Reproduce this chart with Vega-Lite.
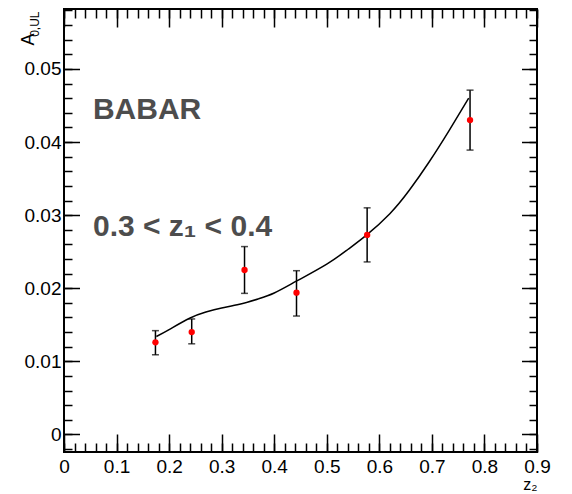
{
  "$schema": "https://vega.github.io/schema/vega-lite/v6.json",
  "autosize": {"type": "none"},
  "padding": {"left": 64, "top": 9, "right": 35, "bottom": 42},
  "width": 473,
  "height": 443,
  "background": "white",
  "config": {
    "view": {"stroke": "black", "strokeWidth": 2},
    "axis": {"grid": false, "domain": false, "labelFont": "Liberation Sans", "titleFont": "Liberation Sans", "tickColor": "black", "labelColor": "black", "titleColor": "black"}
  },
  "datasets": {
    "points": [
      {"z": 0.174, "a": 0.0126, "lo": 0.0109, "hi": 0.0142},
      {"z": 0.243, "a": 0.0140, "lo": 0.0124, "hi": 0.0158},
      {"z": 0.3435, "a": 0.0225, "lo": 0.0193, "hi": 0.0257},
      {"z": 0.4424, "a": 0.0194, "lo": 0.0162, "hi": 0.0224},
      {"z": 0.5768, "a": 0.0273, "lo": 0.0236, "hi": 0.0310},
      {"z": 0.7726, "a": 0.0430, "lo": 0.0389, "hi": 0.0471}
    ],
    "curve": [
      {"z": 0.1757, "a": 0.0134},
      {"z": 0.20, "a": 0.01435},
      {"z": 0.239, "a": 0.0159},
      {"z": 0.270, "a": 0.01675},
      {"z": 0.300, "a": 0.0173},
      {"z": 0.334, "a": 0.0178},
      {"z": 0.370, "a": 0.01855},
      {"z": 0.400, "a": 0.01935},
      {"z": 0.443, "a": 0.0210},
      {"z": 0.500, "a": 0.0233},
      {"z": 0.540, "a": 0.0253},
      {"z": 0.576, "a": 0.0273},
      {"z": 0.620, "a": 0.0302},
      {"z": 0.657, "a": 0.0334},
      {"z": 0.695, "a": 0.0373},
      {"z": 0.733, "a": 0.0416},
      {"z": 0.770, "a": 0.0460}
    ],
    "ann": [
      {"z": 0.0551, "a": 0.0431, "label": "BABAR"},
      {"z": 0.0551, "a": 0.02714, "label": "0.3 < z₁ < 0.4"}
    ]
  },
  "resolve": {"axis": {"x": "independent", "y": "independent"}},
  "layer": [
    {
      "data": {"name": "curve"},
      "mark": {"type": "line", "color": "black", "strokeWidth": 1.5, "interpolate": "natural"},
      "encoding": {
        "x": {"field": "z", "type": "quantitative", "scale": {"domain": [0, 0.9], "nice": false, "zero": false},
          "axis": {"orient": "bottom", "values": [0, 0.1, 0.2, 0.3, 0.4, 0.5, 0.6, 0.7, 0.8, 0.9], "format": "~g", "ticks": false, "labelPadding": 5, "labelFontSize": 19, "labelFlush": false, "labelOverlap": false,
            "title": "z₂", "titleAnchor": "end", "titleAlign": "right", "titleBaseline": "alphabetic", "titleX": 473, "titleY": 37, "titleFontSize": 16, "titleFontWeight": "normal"}},
        "y": {"field": "a", "type": "quantitative", "scale": {"domain": [-0.0024, 0.0582], "nice": false, "zero": false},
          "axis": {"orient": "left", "values": [0, 0.01, 0.02, 0.03, 0.04, 0.05], "format": "~g", "ticks": false, "labelPadding": 3, "labelFontSize": 19, "labelFlush": false, "labelOverlap": false,
            "title": "A", "titleAngle": 270, "titleAlign": "right", "titleBaseline": "alphabetic", "titleX": -31, "titleY": 24, "titleFontSize": 18, "titleFontWeight": "normal"}}
      }
    },
    {
      "data": {"name": "points"},
      "mark": {"type": "rule", "color": "black", "strokeWidth": 1.5},
      "encoding": {
        "x": {"field": "z", "type": "quantitative", "scale": {"domain": [0, 0.9], "nice": false, "zero": false},
          "axis": {"orient": "bottom", "values": [0, 0.1, 0.2, 0.3, 0.4, 0.5, 0.6, 0.7, 0.8, 0.9], "labels": false, "tickSize": -18, "tickWidth": 1.5, "title": null}},
        "y": {"field": "lo", "type": "quantitative", "scale": {"domain": [-0.0024, 0.0582], "nice": false, "zero": false},
          "axis": {"orient": "left", "values": [0, 0.01, 0.02, 0.03, 0.04, 0.05], "labels": false, "tickSize": -15.5, "tickWidth": 1.5, "title": null}},
        "y2": {"field": "hi"}
      }
    },
    {
      "data": {"name": "points"},
      "mark": {"type": "tick", "orient": "horizontal", "size": 7, "thickness": 1.5, "color": "black"},
      "encoding": {
        "x": {"field": "z", "type": "quantitative", "scale": {"domain": [0, 0.9], "nice": false, "zero": false},
          "axis": {"orient": "bottom", "values": [0, 0.02, 0.04, 0.06, 0.08, 0.1, 0.12, 0.14, 0.16, 0.18, 0.2, 0.22, 0.24, 0.26, 0.28, 0.3, 0.32, 0.34, 0.36, 0.38, 0.4, 0.42, 0.44, 0.46, 0.48, 0.5, 0.52, 0.54, 0.56, 0.58, 0.6, 0.62, 0.64, 0.66, 0.68, 0.7, 0.72, 0.74, 0.76, 0.78, 0.8, 0.82, 0.84, 0.86, 0.88, 0.9], "labels": false, "tickSize": -9, "tickWidth": 1.5, "title": null}},
        "y": {"field": "lo", "type": "quantitative", "scale": {"domain": [-0.0024, 0.0582], "nice": false, "zero": false},
          "axis": {"orient": "left", "values": [-0.002, 0, 0.002, 0.004, 0.006, 0.008, 0.01, 0.012, 0.014, 0.016, 0.018, 0.02, 0.022, 0.024, 0.026, 0.028, 0.03, 0.032, 0.034, 0.036, 0.038, 0.04, 0.042, 0.044, 0.046, 0.048, 0.05, 0.052, 0.054, 0.056, 0.058], "labels": false, "tickSize": -8, "tickWidth": 1.5, "title": null}}
      }
    },
    {
      "data": {"name": "points"},
      "mark": {"type": "tick", "orient": "horizontal", "size": 7, "thickness": 1.5, "color": "black"},
      "encoding": {
        "x": {"field": "z", "type": "quantitative", "scale": {"domain": [0, 0.9], "nice": false, "zero": false},
          "axis": {"orient": "top", "values": [0, 0.1, 0.2, 0.3, 0.4, 0.5, 0.6, 0.7, 0.8, 0.9], "labels": false, "tickSize": -18, "tickWidth": 1.5, "title": null}},
        "y": {"field": "hi", "type": "quantitative", "scale": {"domain": [-0.0024, 0.0582], "nice": false, "zero": false},
          "axis": {"orient": "right", "values": [0, 0.01, 0.02, 0.03, 0.04, 0.05], "labels": false, "tickSize": -15.5, "tickWidth": 1.5, "title": null}}
      }
    },
    {
      "data": {"name": "points"},
      "mark": {"type": "circle", "color": "#ff0000", "size": 40, "opacity": 1},
      "encoding": {
        "x": {"field": "z", "type": "quantitative", "scale": {"domain": [0, 0.9], "nice": false, "zero": false},
          "axis": {"orient": "top", "values": [0, 0.02, 0.04, 0.06, 0.08, 0.1, 0.12, 0.14, 0.16, 0.18, 0.2, 0.22, 0.24, 0.26, 0.28, 0.3, 0.32, 0.34, 0.36, 0.38, 0.4, 0.42, 0.44, 0.46, 0.48, 0.5, 0.52, 0.54, 0.56, 0.58, 0.6, 0.62, 0.64, 0.66, 0.68, 0.7, 0.72, 0.74, 0.76, 0.78, 0.8, 0.82, 0.84, 0.86, 0.88, 0.9], "labels": false, "tickSize": -9, "tickWidth": 1.5, "title": null}},
        "y": {"field": "a", "type": "quantitative", "scale": {"domain": [-0.0024, 0.0582], "nice": false, "zero": false},
          "axis": {"orient": "right", "values": [-0.002, 0, 0.002, 0.004, 0.006, 0.008, 0.01, 0.012, 0.014, 0.016, 0.018, 0.02, 0.022, 0.024, 0.026, 0.028, 0.03, 0.032, 0.034, 0.036, 0.038, 0.04, 0.042, 0.044, 0.046, 0.048, 0.05, 0.052, 0.054, 0.056, 0.058], "labels": false, "tickSize": -8, "tickWidth": 1.5, "title": null}}
      }
    },
    {
      "data": {"name": "ann"},
      "mark": {"type": "text", "align": "left", "baseline": "alphabetic", "fontSize": 30, "fontWeight": "bold", "font": "Liberation Sans", "color": "#4d4d4d"},
      "encoding": {
        "x": {"field": "z", "type": "quantitative", "scale": {"domain": [0, 0.9], "nice": false, "zero": false}, "axis": null},
        "y": {"field": "a", "type": "quantitative", "scale": {"domain": [-0.0024, 0.0582], "nice": false, "zero": false},
          "axis": {"orient": "left", "labels": false, "ticks": false, "title": "0,UL", "titleAngle": 270, "titleAlign": "right", "titleBaseline": "alphabetic", "titleX": -26, "titleY": 2, "titleFontSize": 12, "titleFontWeight": "normal"}},
        "text": {"field": "label"}
      }
    }
  ]
}
